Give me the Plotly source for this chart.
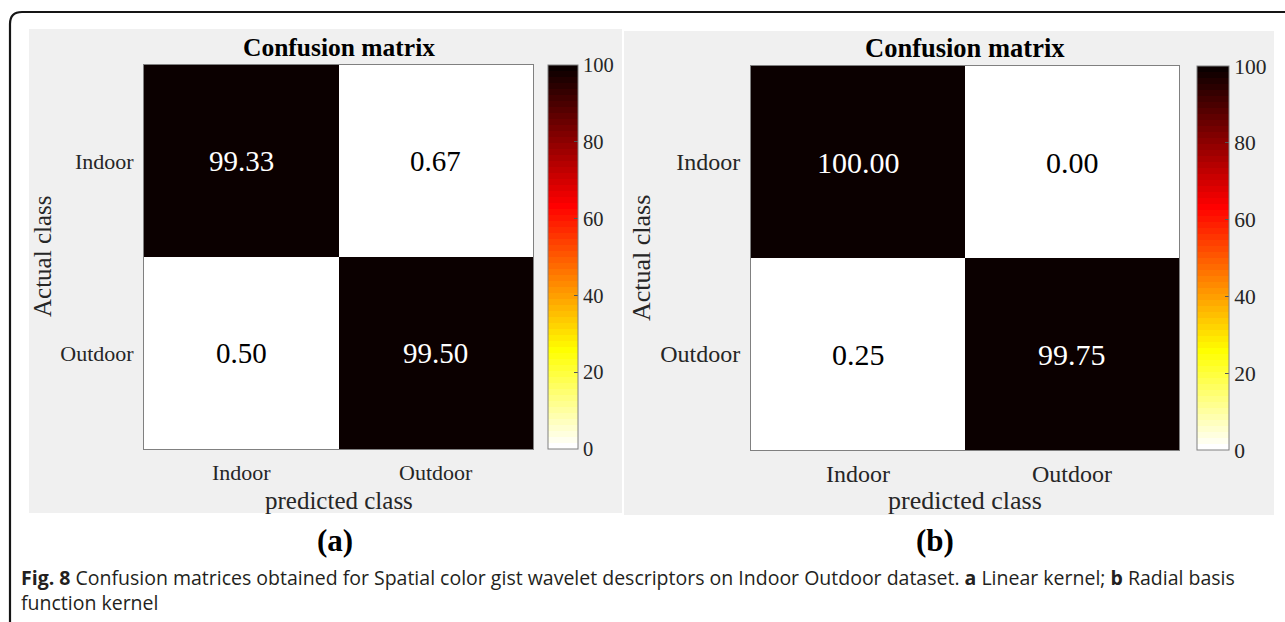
import plotly.graph_objects as go

# ---- data -------------------------------------------------------------
predicted_labels = ["Indoor", "Outdoor"]
actual_labels = ["Indoor", "Outdoor"]

# (a) linear kernel, (b) radial basis function kernel, values in percent
linear_kernel = [[99.33, 0.67],
                 [0.50, 99.50]]
rbf_kernel = [[100.00, 0.00],
              [0.25, 99.75]]

colorbar_ticks = [0, 20, 40, 60, 80, 100]

panel_titles = ["Confusion matrix", "Confusion matrix"]
panel_tags = ["(a)", "(b)"]
caption_lines = [
    "<b>Fig. 8</b> Confusion matrices obtained for Spatial color gist wavelet "
    "descriptors on Indoor Outdoor dataset. <b>a</b> Linear kernel; "
    "<b>b</b> Radial basis",
    "function kernel",
]

# ---- geometry helpers (pixels -> paper) --------------------------------
W, H = 1285, 622


def fx(px):
    return px / W


def fy(py):
    return 1 - py / H


# ---- reversed MATLAB "hot" colormap with 64 discrete levels -------------
def hot_rgb(m=64):
    n = int(3 * m / 8)
    cols = []
    for i in range(m):
        r = min(1.0, (i + 1) / n)
        g = 0.0 if i < n else min(1.0, (i - n + 1) / n)
        b = 0.0 if i < 2 * n else (i - 2 * n + 1) / (m - 2 * n)
        cols.append((r, g, b))
    return cols


hot = hot_rgb(64)[::-1]  # white at 0, near-black at 100
colorscale = []
for k, (r, g, b) in enumerate(hot):
    c = "rgb(%d,%d,%d)" % (round(r * 255), round(g * 255), round(b * 255))
    colorscale.append([k / 64, c])
    colorscale.append([(k + 1) / 64, c])

SERIF = "Liberation Serif"
TXT = "#262626"

panels = [
    dict(z=linear_kernel, box=(144, 533, 65, 449), cb_x=548, cb_w=30,
         tick_size=22, cb_size=20.5, cell_size=29, title_size=25.5, lab_size=25,
         ylab_x=42, tag_x=335, xtl=4, ytl=5),
    dict(z=rbf_kernel, box=(751, 1179, 66, 450), cb_x=1197, cb_w=32,
         tick_size=24, cb_size=21.5, cell_size=30, title_size=26.5, lab_size=26,
         ylab_x=641, tag_x=935, xtl=2, ytl=5),
]

fig = go.Figure()
annotations = []
shapes = []

# light grey panel backgrounds
for (x0, x1, y0, y1) in [(29, 622, 29, 513), (624, 1274, 31, 515)]:
    shapes.append(dict(type="rect", xref="paper", yref="paper",
                       x0=fx(x0), x1=fx(x1), y0=fy(y1), y1=fy(y0),
                       fillcolor="#f0f0f0", line=dict(width=0), layer="below"))

# rounded outer frame that runs off the right and bottom edges
frame = "M %f %f L %f %f Q %f %f %f %f L %f %f" % (
    fx(10), fy(700), fx(10), fy(24), fx(10), fy(12), fx(22), fy(12), fx(1320), fy(12))
shapes.append(dict(type="path", xref="paper", yref="paper", path=frame,
                   line=dict(color="#151515", width=2.2), layer="below"))


def label(x, y, text, size, color=TXT, angle=0, xanchor="center", family=SERIF,
          align="center"):
    return dict(x=fx(x), y=fy(y), xref="paper", yref="paper", text=text,
                xanchor=xanchor, yanchor="middle", textangle=angle, align=align,
                showarrow=False, font=dict(family=family, size=size, color=color))


for i, p in enumerate(panels):
    xa = "x" if i == 0 else "x2"
    ya = "y" if i == 0 else "y2"
    x0, x1, y0, y1 = p["box"]
    fig.add_trace(go.Heatmap(
        z=p["z"], x=predicted_labels, y=actual_labels,
        zmin=0, zmax=100, colorscale=colorscale, xaxis=xa, yaxis=ya,
        hoverinfo="skip",
        colorbar=dict(
            x=fx(p["cb_x"]), xanchor="left", xpad=0, ypad=0,
            thickness=p["cb_w"], thicknessmode="pixels",
            len=y1 - y0, lenmode="pixels", y=fy((y0 + y1) / 2), yanchor="middle",
            outlinecolor="#808080", outlinewidth=1,
            tickvals=colorbar_ticks, ticks="inside", ticklen=4, tickcolor="#555555",
            tickfont=dict(family=SERIF, size=p["cb_size"], color=TXT),
        ),
    ))
    axis_common = dict(showline=True, mirror=True, linecolor="#808080", linewidth=1,
                       showgrid=False, zeroline=False, fixedrange=True,
                       ticks="outside", tickcolor="rgba(0,0,0,0)")
    fig.layout[("xaxis" if i == 0 else "xaxis2")] = dict(
        domain=[fx(x0), fx(x1)], anchor=ya, ticklen=p["xtl"],
        tickfont=dict(family=SERIF, size=p["tick_size"], color=TXT), **axis_common)
    fig.layout[("yaxis" if i == 0 else "yaxis2")] = dict(
        domain=[fy(y1), fy(y0)], anchor=xa, autorange="reversed", ticklen=p["ytl"],
        tickfont=dict(family=SERIF, size=p["tick_size"], color=TXT), **axis_common)

    # values written in every cell
    for r, row_label in enumerate(actual_labels):
        for c, col_label in enumerate(predicted_labels):
            v = p["z"][r][c]
            annotations.append(dict(
                x=col_label, y=row_label, xref=xa, yref=ya, text="%.2f" % v,
                xanchor="center", yanchor="middle", showarrow=False,
                font=dict(family=SERIF, size=p["cell_size"],
                          color="white" if v > 50 else "black")))

    cx = (x0 + x1) / 2
    cy = (y0 + y1) / 2
    annotations += [
        label(cx, y0 - 18, "<b>%s</b>" % panel_titles[i], p["title_size"], "black"),
        label(p["ylab_x"], cy, "Actual class", p["lab_size"], angle=-90),
        label(cx, y1 + 51, "predicted class", p["lab_size"]),
        label(p["tag_x"], 540, "<b>%s</b>" % panel_tags[i], 31, "black"),
    ]

# figure caption, two lines in one block
annotations.append(label(19, 589.5, "<br>".join(caption_lines), 19.5, "#231f20",
                         xanchor="left", family="Open Sans", align="left"))

fig.update_layout(
    width=W, height=H, margin=dict(l=0, r=0, t=0, b=0),
    paper_bgcolor="white", plot_bgcolor="white",
    showlegend=False, annotations=annotations, shapes=shapes,
)

fig.write_html("out.html")
